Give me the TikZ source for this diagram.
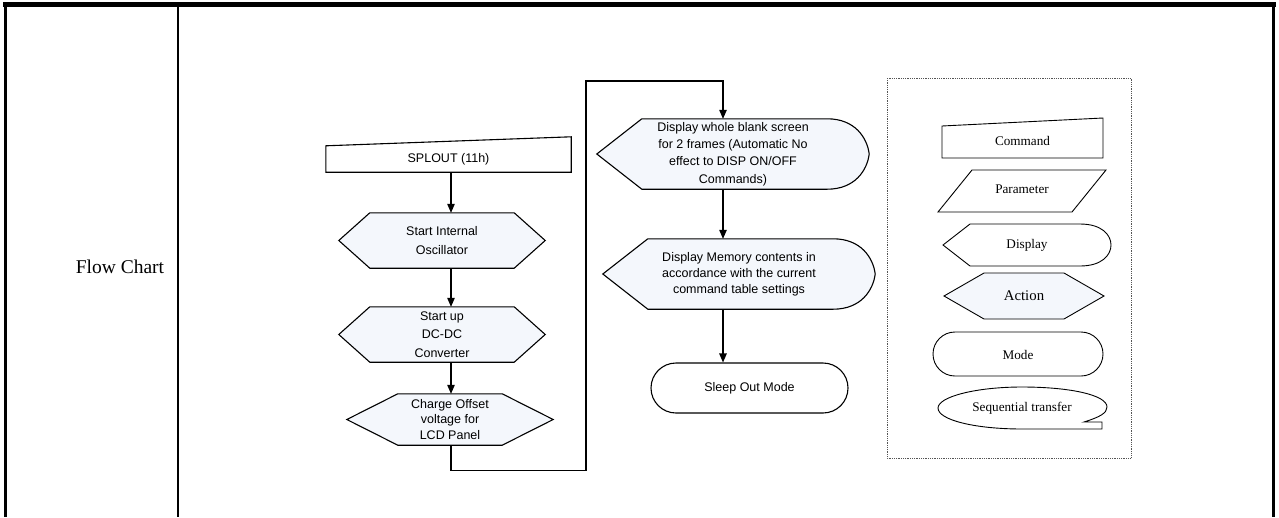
\documentclass[tikz,border=0pt]{standalone}
\usepackage{fontspec}
\setmainfont{Liberation Serif}
\setsansfont{Liberation Sans}
\usepackage{tikz}
\usetikzlibrary{positioning, arrows.meta, calc, backgrounds}
\definecolor{paleFill}{HTML}{F4F7FC}
\definecolor{dotGray}{HTML}{555555}

\begin{document}
\begin{tikzpicture}[x=1pt, y=-1pt,
  line/.style={draw=black, line width=1.1pt},
  arr/.style={line, -{Triangle[length=9pt, width=7.5pt]}},
  txt/.style={font=\sffamily\fontsize{12.5}{#1}\selectfont, align=center, inner sep=0pt},
  txt/.default=17.5,
  legtxt/.style={font=\rmfamily\fontsize{13.2}{15}\selectfont, inner sep=0pt},
  box/.style 2 args={minimum width=#1, minimum height=#2}
]
\useasboundingbox (0,0) rectangle (1279,517);

% table frame
\draw[line width=5pt] (3,4.5) -- (1276,4.5);
\draw[line width=2.7pt] (5.5,2) -- (5.5,517);
\draw[line width=2.7pt] (178,7) -- (178,517);
\draw[line width=2.7pt] (1273.5,2) -- (1273.5,517);
\node[font=\rmfamily\fontsize{19.5}{22}\selectfont] (title) at (120,267) {Flow Chart};

% flow, left column
\node[txt, box={245pt}{26pt}] (splout) at (448.5,159) {SPLOUT (11h)};
\node[txt=19, box={206pt}{55pt}] (osc) at (442,240.5) {Start Internal\\Oscillator};
\node[txt=18.5, box={206pt}{55pt}] (dcdc) at (442,334.5) {Start up\\DC-DC\\Converter};
\node[txt=15.5, box={206pt}{51pt}] (vofs) at (450,419.5) {Charge Offset\\voltage for\\LCD Panel};

% flow, right column
\node[txt=17.3, box={272pt}{70pt}] (blank) at (733,154) {Display whole blank screen\\for 2 frames (Automatic No\\effect to DISP ON/OFF\\Commands)};
\node[txt=16, box={272pt}{70pt}] (mem) at (739,274) {Display Memory contents in\\accordance with the current\\command table settings};
\node[txt, box={197pt}{50pt}, line, rounded corners=25pt, fill=white] (sleep) at (749.5,388) {Sleep Out Mode};

% outlines behind the texts
\begin{scope}[on background layer]
\draw[line, fill=white] (splout.south west) -- (splout.north west)
  -- ($(splout.north east)+(0,-9)$) -- (splout.south east) -- cycle;
\foreach \n/\d in {osc/31, dcdc/31, vofs/51}
  \draw[line, fill=paleFill] (\n.west) -- ($(\n.north west)+(\d,0)$)
    -- ($(\n.north east)+(-\d,0)$) -- (\n.east) -- ($(\n.south east)+(-\d,0)$)
    -- ($(\n.south west)+(\d,0)$) -- cycle;
\foreach \n in {blank, mem}
  \draw[line, fill=paleFill] (\n.west) -- ($(\n.north west)+(45,0)$)
    -- ($(\n.north east)+(-42,0)$)
    .. controls ($(\n.north east)+(-14,0)$) and ($(\n.east)+(-2,-16)$) .. (\n.east)
    .. controls ($(\n.east)+(-2,16)$) and ($(\n.south east)+(-14,0)$) .. ($(\n.south east)+(-42,0)$)
    -- ($(\n.south west)+(45,0)$) -- cycle;
\end{scope}

% connectors
\coordinate (colL) at (451,0);
\coordinate (colR) at (723,0);
\coordinate (loopB) at (586,470.5);
\coordinate (loopT) at (586,81);
\draw[arr] (splout.south -| colL) -- (osc.north -| colL);
\draw[arr] (osc.south -| colL) -- (dcdc.north -| colL);
\draw[arr] (dcdc.south -| colL) -- (vofs.north -| colL);
\draw[arr] (vofs.south -| colL) |- (loopB) -- (loopT) -| (blank.north -| colR);
\draw[arr] (blank.south -| colR) -- (mem.north -| colR);
\draw[arr] (mem.south -| colR) -- (sleep.north -| colR);

% legend
\draw[densely dotted, line width=0.8pt, dotGray] (887,78) rectangle (1131,458);
\draw[line, line width=0.9pt] (942,158) -- (942,126) -- (1103,118) -- (1103,158) -- cycle;
\node[legtxt] (lcmd) at (1022.5,141) {Command};
\draw[line, line width=0.9pt] (938,212) -- (972,170) -- (1106,170) -- (1072,212) -- cycle;
\node[legtxt] (lpar) at (1022,189) {Parameter};
\draw[line, line width=0.9pt] (943,245) -- (970,224) -- (1080,224)
  .. controls (1102,224) and (1111,235) .. (1111,245)
  .. controls (1111,255) and (1102,266) .. (1080,266) -- (970,266) -- cycle;
\node[legtxt] (ldisp) at (1027,245) {Display};
\draw[line, line width=0.9pt, fill=paleFill] (944,296) -- (984,273) -- (1064,273)
  -- (1104,296) -- (1064,319) -- (984,319) -- cycle;
\node[legtxt, font=\rmfamily\fontsize{14.8}{16}\selectfont] (lact) at (1024,296) {Action};
\draw[line, line width=0.9pt, rounded corners=22pt] (933,332) rectangle (1103,376);
\node[legtxt] (lmode) at (1018,355) {Mode};
\draw[line, line width=0.9pt] (1102,429) -- (1102,422) -- (1084,422)
  .. controls (1100,417) and (1107,413) .. (1107,407)
  .. controls (1107,395) and (1070,387) .. (1022,387)
  .. controls (975,387) and (938,397) .. (938,408)
  .. controls (938,420) and (975,429) .. (1022,429) -- cycle;
\node[legtxt] (lseq) at (1022,408) {Sequential transfer};
\end{tikzpicture}
\end{document}
